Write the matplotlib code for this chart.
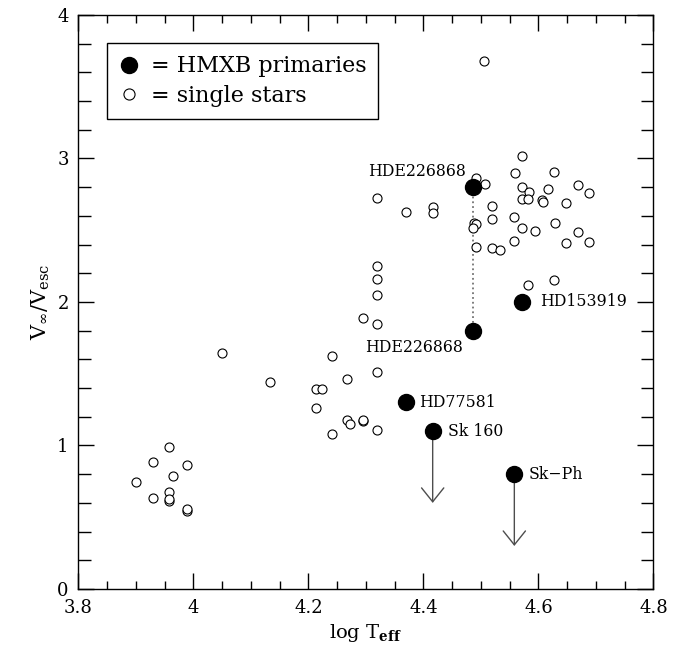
import numpy as np
import matplotlib
matplotlib.use('Agg')
import matplotlib.pyplot as plt
from matplotlib.ticker import MultipleLocator, FuncFormatter
from matplotlib.lines import Line2D

plt.rcParams['font.family'] = ['DejaVu Serif']
plt.rcParams['mathtext.fontset'] = 'dejavuserif'

# single stars (log Teff, vinf/vesc)
single_logt = [3.90, 3.93, 3.93, 3.957, 3.964, 3.957, 3.957, 3.957, 3.989, 3.989, 3.989,
               4.05, 4.133, 4.241, 4.267, 4.319, 4.213, 4.223, 4.213, 4.267, 4.272,
               4.295, 4.295, 4.319, 4.241,
               4.319, 4.37, 4.416, 4.416, 4.319, 4.319, 4.319, 4.294, 4.319,
               4.572, 4.491, 4.507, 4.559, 4.627, 4.572, 4.583, 4.616, 4.668, 4.688,
               4.571, 4.582, 4.606, 4.607, 4.648, 4.52, 4.52, 4.557, 4.571, 4.594,
               4.629, 4.668, 4.648, 4.688, 4.557, 4.52, 4.533, 4.491, 4.487, 4.491,
               4.486, 4.627, 4.582, 4.506]
single_ratio = [0.746, 0.885, 0.634, 0.99, 0.787, 0.676, 0.615, 0.63, 0.864, 0.545, 0.555,
                1.643, 1.443, 1.624, 1.461, 1.51, 1.394, 1.394, 1.261, 1.178, 1.148,
                1.173, 1.178, 1.106, 1.078,
                2.723, 2.627, 2.664, 2.618, 2.253, 2.158, 2.051, 1.886, 1.845,
                3.02, 2.862, 2.822, 2.897, 2.906, 2.799, 2.767, 2.785, 2.815, 2.757,
                2.716, 2.72, 2.711, 2.699, 2.69, 2.669, 2.576, 2.59, 2.518, 2.495,
                2.548, 2.488, 2.409, 2.418, 2.427, 2.374, 2.362, 2.385, 2.548, 2.544,
                2.514, 2.153, 2.116, 3.679]

# HMXB primaries
hmxb_names = ['HDE226868', 'HDE226868', 'HD153919', 'HD77581', 'Sk 160', 'Sk\u2212Ph']
hmxb_logt = [4.486, 4.486, 4.571, 4.37, 4.416, 4.558]
hmxb_ratio = [2.80, 1.80, 2.00, 1.30, 1.10, 0.80]
# upper limits: arrow tips
limit_names = ['Sk 160', 'Sk\u2212Ph']
limit_tip = [0.60, 0.30]

fig = plt.figure(figsize=(6.73, 6.52), dpi=100)
ax = fig.add_axes([0.1166, 0.0966, 0.8544, 0.8805])

# dotted line joining the two HDE226868 values
ax.plot([hmxb_logt[0], hmxb_logt[1]], [hmxb_ratio[0], hmxb_ratio[1]],
        ls=':', color='0.45', lw=1.3, zorder=1)

ax.plot(single_logt, single_ratio, 'o', mfc='white', mec='black',
        ms=6.5, mew=0.8, ls='none', zorder=2)

# upper-limit arrows
for name, tip in zip(limit_names, limit_tip):
    i = hmxb_names.index(name)
    ax.annotate('', xy=(hmxb_logt[i], tip), xytext=(hmxb_logt[i], hmxb_ratio[i]),
                arrowprops=dict(arrowstyle='->,head_length=1.0,head_width=0.8',
                                mutation_scale=10, color='0.3', lw=1.0,
                                shrinkA=0, shrinkB=0), zorder=1)

ax.plot(hmxb_logt, hmxb_ratio, 'o', color='black', ms=11.5, ls='none', zorder=3)

# labels
offsets = [(-5, 11, 'right'), (-7, -12, 'right'), (13, 0, 'left'),
           (9, 0, 'left'), (11, 0, 'left'), (10, 0, 'left')]
for name, x, y, (dx, dy, ha) in zip(hmxb_names, hmxb_logt, hmxb_ratio, offsets):
    ax.annotate(name, (x, y), xytext=(dx, dy), textcoords='offset points',
                ha=ha, va='center', fontsize=11.3)

ax.set_xlim(3.8, 4.8)
ax.set_ylim(0, 4)
ax.xaxis.set_major_locator(MultipleLocator(0.2))
ax.xaxis.set_minor_locator(MultipleLocator(0.05))
ax.yaxis.set_major_locator(MultipleLocator(1))
ax.yaxis.set_minor_locator(MultipleLocator(0.2))
ax.xaxis.set_major_formatter(FuncFormatter(lambda v, p: '%g' % round(v, 2)))
ax.tick_params(which='both', direction='in', top=True, right=True, labelsize=13,
               width=1.0)
ax.tick_params(axis='x', which='major', length=11.5, pad=7)
ax.tick_params(axis='x', which='minor', length=5.8)
ax.tick_params(axis='y', which='major', length=11.5, pad=7)
ax.tick_params(axis='y', which='minor', length=9)
for s in ax.spines.values():
    s.set_linewidth(1.0)

ax.set_xlabel(r'log T$_{\mathbf{eff}}$', fontsize=14)
ax.set_ylabel(r'V$_\infty$/V$_{\rm esc}$', fontsize=15)

handles = [Line2D([], [], marker='o', color='black', ms=11.5, ls='none'),
           Line2D([], [], marker='o', mfc='white', mec='black', ms=8, mew=0.8, ls='none')]
leg = ax.legend(handles, ['= HMXB primaries', '= single stars'], loc='upper left',
                bbox_to_anchor=(0.05, 0.951), borderaxespad=0, fancybox=False,
                edgecolor='black', framealpha=1, fontsize=16, handlelength=0.9,
                handletextpad=0.5, borderpad=0.55, labelspacing=0.35)
leg.get_frame().set_linewidth(1.0)

fig.savefig('out.png', dpi=100)
